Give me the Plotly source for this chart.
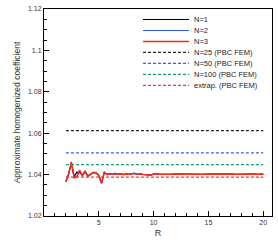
import plotly.graph_objects as go

R = [2.0, 2.25, 2.5, 2.75, 3.0, 3.25, 3.5, 3.75, 4.0, 4.25, 4.5, 4.75, 5.0, 5.25, 5.5, 5.75,
     6.0, 6.25, 6.5, 6.75, 7.0, 7.25, 7.5, 7.75, 8.0, 8.25, 8.5, 8.75, 9.0, 9.25, 9.5, 9.75,
     10.0, 10.25, 10.5, 10.75, 11.0, 11.5, 12.0, 12.5, 13.0, 13.5, 14.0, 14.5, 15.0, 15.5,
     16.0, 16.5, 17.0, 17.5, 18.0, 18.5, 19.0, 19.5, 20.0]

N1 = [1.0368, 1.0405, 1.0455, 1.0390, 1.0412, 1.0410, 1.0398, 1.0416, 1.0394, 1.0401, 1.0410, 1.0408, 1.0396, 1.0360, 1.0410, 1.0401,
      1.0404, 1.0401, 1.0405, 1.0401, 1.0403, 1.0400, 1.0403, 1.0401, 1.0403, 1.0406, 1.0401, 1.0404, 1.0401, 1.0400, 1.0397, 1.0398,
      1.0402, 1.0404, 1.0402, 1.0401, 1.0403, 1.0401, 1.0403, 1.0402, 1.0401, 1.0403, 1.0402, 1.0401, 1.0402, 1.0403,
      1.0401, 1.0402, 1.0403, 1.0401, 1.0402, 1.0401, 1.0402, 1.0401, 1.0402]

N2 = [1.0366, 1.0402, 1.0458, 1.0384, 1.0388, 1.0418, 1.0395, 1.0413, 1.0391, 1.0400, 1.0410, 1.0409, 1.0395, 1.0358, 1.0411, 1.0400,
      1.0405, 1.0401, 1.0405, 1.0401, 1.0404, 1.0400, 1.0403, 1.0401, 1.0403, 1.0406, 1.0401, 1.0404, 1.0401, 1.0400, 1.0396, 1.0397,
      1.0402, 1.0405, 1.0402, 1.0401, 1.0403, 1.0401, 1.0403, 1.0402, 1.0401, 1.0403, 1.0402, 1.0401, 1.0402, 1.0403,
      1.0401, 1.0402, 1.0403, 1.0401, 1.0402, 1.0401, 1.0402, 1.0401, 1.0402]

N3 = [1.0365, 1.0400, 1.0462, 1.0385, 1.0392, 1.0422, 1.0393, 1.0414, 1.0392, 1.0400, 1.0411, 1.0409, 1.0395, 1.0357, 1.0411, 1.0400,
      1.0405, 1.0401, 1.0406, 1.0401, 1.0404, 1.0400, 1.0403, 1.0401, 1.0403, 1.0407, 1.0401, 1.0404, 1.0401, 1.0400, 1.0396, 1.0397,
      1.0402, 1.0405, 1.0402, 1.0401, 1.0403, 1.0401, 1.0403, 1.0402, 1.0401, 1.0403, 1.0402, 1.0401, 1.0402, 1.0403,
      1.0401, 1.0402, 1.0403, 1.0401, 1.0402, 1.0401, 1.0402, 1.0401, 1.0402]

R_FEM = [2.0, 20.0]
FEM_25 = 1.0612
FEM_50 = 1.0505
FEM_100 = 1.0448
FEM_EXTRAP = 1.0388

X_TICKS = [5, 10, 15, 20]
Y_TICKS = [1.02, 1.04, 1.06, 1.08, 1.1, 1.12]
Y_TICK_LABELS = ["1.02", "1.04", "1.06", "1.08", "1.1", "1.12"]

DASH = "3px,2px"
series = [
    ("N=1", R, N1, dict(color="#000000", width=1.2)),
    ("N=2", R, N2, dict(color="#2f54e8", width=1.2)),
    ("N=3", R, N3, dict(color="#ff2a14", width=1.4)),
    ("N=25 (PBC FEM)", R_FEM, [FEM_25, FEM_25], dict(color="#222222", width=1.2, dash=DASH)),
    ("N=50 (PBC FEM)", R_FEM, [FEM_50, FEM_50], dict(color="#3c5ef0", width=1.2, dash=DASH)),
    ("N=100 (PBC FEM)", R_FEM, [FEM_100, FEM_100], dict(color="#1fa070", width=1.2, dash=DASH)),
    ("extrap. (PBC FEM)", R_FEM, [FEM_EXTRAP, FEM_EXTRAP], dict(color="#ff3322", width=1.2, dash=DASH)),
]

fig = go.Figure()
for name, xs, ys, line in series:
    fig.add_trace(go.Scatter(x=xs, y=ys, mode="lines", name=name, line=line, showlegend=False,
                             hoverinfo="skip"))

# Compact manual legend (plot area: x 44..272 px, y 5..216 px)
PL, PW, PT, PH = 44, 228, 5, 211
shapes, annotations = [], []
for i, (name, xs, ys, line) in enumerate(series):
    ypx = 15.7 + 11.2 * i
    yp = 1 - (ypx - PT) / PH
    shapes.append(dict(type="line", xref="paper", yref="paper",
                       x0=(143 - PL) / PW, x1=(189 - PL) / PW, y0=yp, y1=yp,
                       line=dict(color=line["color"], width=line["width"], dash=line.get("dash", "solid"))))
    annotations.append(dict(xref="paper", yref="paper", x=(192 - PL) / PW, y=yp, text=name,
                            showarrow=False, xanchor="left", yanchor="middle",
                            font=dict(size=7.5, color="#222222")))

font = "Liberation Sans, Arial, sans-serif"
fig.update_layout(
    width=278, height=250,
    margin=dict(l=PL, r=278 - PL - PW, t=PT, b=250 - PT - PH),
    paper_bgcolor="white", plot_bgcolor="white",
    font=dict(family=font, size=7, color="#333333"),
    showlegend=False,
    shapes=shapes, annotations=annotations,
    xaxis=dict(range=[0, 20.8], tickvals=X_TICKS, ticks="inside", ticklen=5, tickwidth=1,
               tickcolor="black", showline=True, linecolor="black", linewidth=1, mirror=True,
               showgrid=False, zeroline=False,
               minor=dict(ticks="inside", dtick=1, tick0=0, ticklen=3, tickcolor="black", showgrid=False),
               title=dict(text="R", font=dict(size=9, color="#333333"), standoff=4)),
    yaxis=dict(range=[1.02, 1.12], tickvals=Y_TICKS, ticktext=Y_TICK_LABELS, ticks="inside",
               ticklen=5, tickwidth=1, tickcolor="black", showline=True, linecolor="black",
               linewidth=1, mirror=True, showgrid=False, zeroline=False,
               minor=dict(ticks="inside", dtick=0.005, tick0=1.02, ticklen=3, tickcolor="black", showgrid=False),
               title=dict(text="Approximate homogenized coefficient", font=dict(size=8.5, color="#333333"), standoff=5)),
)

fig.write_html("out.html", config={"displayModeBar": False},
               post_script="document.body.style.margin='0';document.body.style.padding='0';")
